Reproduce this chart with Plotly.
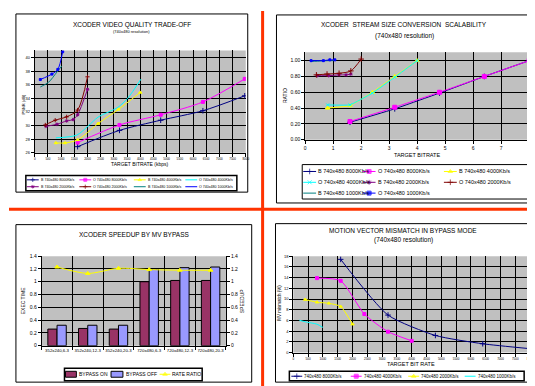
import plotly.graph_objects as go

W, H = 535, 386
FONT = "Liberation Sans, Arial, sans-serif"
GRAY = "#C0C0C0"
RED = "#FF3300"

# ---------------- Panel 1: video quality trade-off (PSNR vs bitrate) ----------------
P1_B8000_X = [1625, 3212, 4775, 6375, 7962]
P1_B8000_Y = [26.9, 29.3, 30.8, 32.2, 34.4]
P1_O8000_X = [1625, 3212, 4775, 6375, 7962]
P1_O8000_Y = [27.5, 30.1, 31.6, 33.5, 36.9]
P1_B4000_X = [800, 1150, 1625, 2400, 3175, 4000]
P1_B4000_Y = [27.45, 27.45, 27.9, 30.3, 32.4, 34.9]
P1_O4000_X = [800, 1590, 2025, 2400, 3150, 3525, 4025]
P1_O4000_Y = [28.2, 28.6, 29.95, 31.25, 32.7, 34.05, 36.85]
P1_B2000_X = [425, 840, 1210, 1460, 1625, 2000]
P1_B2000_Y = [29.9, 30.2, 30.7, 30.9, 31.6, 35.35]
P1_O2000_X = [400, 775, 1210, 1625, 2000]
P1_O2000_Y = [30.1, 30.8, 31.3, 32.3, 37.2]
P1_B1000_X = [210, 525, 840, 1025]
P1_B1000_Y = [35.7, 36.4, 37.9, 38.8]
P1_O1000_X = [210, 650, 875, 1060]
P1_O1000_Y = [36.8, 37.6, 38.3, 40.9]
P1_XTICKS = list(range(0, 8001, 500))
P1_YTICKS = [26, 28, 30, 32, 34, 36, 38, 40]

# ---------------- Panel 2: stream size conversion scalability ----------------
P2_B8000_X = [1.6, 3.2, 4.8, 6.4, 8.0]
P2_B8000_Y = [0.22, 0.39, 0.59, 0.80, 1.00]
P2_O8000_X = [1.6, 3.2, 4.8, 6.4, 8.0]
P2_O8000_Y = [0.23, 0.41, 0.60, 0.80, 1.00]
P2_B4000_X = [0.8, 1.6, 2.4, 3.2, 4.0]
P2_B4000_Y = [0.40, 0.43, 0.60, 0.80, 1.00]
P2_O4000_X = [0.8, 1.6, 2.4, 3.2, 4.0]
P2_O4000_Y = [0.44, 0.44, 0.59, 0.79, 1.00]
P2_B2000_X = [0.43, 0.84, 1.21, 1.46, 1.63]
P2_B2000_Y = [0.81, 0.81, 0.82, 0.82, 0.83]
P2_O2000_X = [0.40, 0.78, 1.21, 1.63, 2.0]
P2_O2000_Y = [0.82, 0.83, 0.84, 0.87, 1.02]
P2_B1000_X = [0.21, 0.53, 0.84, 1.03]
P2_B1000_Y = [0.99, 0.995, 1.0, 1.0]
P2_O1000_X = [0.21, 0.65, 0.88, 1.06]
P2_O1000_Y = [1.0, 1.0, 1.01, 1.01]
P2_XTICKS = [0, 1, 2, 3, 4, 5, 6, 7, 8]
P2_YTICKS = [0.0, 0.2, 0.4, 0.6, 0.8, 1.0]

# ---------------- Panel 3: speedup by MV bypass ----------------
P3_CATS = ["352x240,6-3", "352x240,12-3", "352x240,20-3",
           "720x480,6-3", "720x480,12-3", "720x480,20-3"]
P3_BYPASS_ON = [0.26, 0.27, 0.26, 1.00, 1.02, 1.02]
P3_BYPASS_OFF = [0.32, 0.32, 0.32, 1.20, 1.22, 1.23]
P3_RATE_RATIO = [1.23, 1.13, 1.21, 1.19, 1.18, 1.18]
P3_YTICKS = [0, 0.2, 0.4, 0.6, 0.8, 1, 1.2, 1.4]

# ---------------- Panel 4: motion vector mismatch ----------------
P4_8000_X = [1600, 3200, 4800, 6400, 8000]
P4_8000_Y = [17.4, 7.0, 3.2, 1.65, 0.73]
P4_4000_X = [800, 1600, 2400, 3200, 4000]
P4_4000_Y = [13.9, 13.4, 7.2, 3.9, 2.2]
P4_2000_X = [400, 800, 1200, 1600, 2000]
P4_2000_Y = [9.9, 9.4, 9.2, 8.6, 5.3]
P4_1000_X = [200, 400, 800, 1000]
P4_1000_Y = [6.05, 5.75, 5.3, 4.7]
P4_XTICKS = list(range(0, 8001, 500))
P4_YTICKS = [0, 2, 4, 6, 8, 10, 12, 14, 16, 18]

C_NAVY, C_MAG, C_YEL, C_CYAN = "#000080", "#FF00FF", "#FFFF00", "#00FFFF"
C_PUR, C_DRED, C_TEAL, C_BLUE = "#800080", "#800000", "#008080", "#0000FF"
C_BAR1, C_BAR2 = "#993366", "#9999FF"


def px(x):
    return x / W


def py(y):
    return 1 - y / H


fig = go.Figure()


def line(x, y, color, xa, ya, symbol=None, msize=3, smooth=0.8):
    fig.add_trace(go.Scatter(
        x=x, y=y, xaxis=xa, yaxis=ya,
        mode="lines+markers" if symbol else "lines",
        line=dict(color=color, width=1, shape="spline", smoothing=smooth),
        marker=dict(symbol=symbol or "circle", size=msize, color=color,
                    line=dict(color=color, width=1)),
        showlegend=False, hoverinfo="skip"))


# Panel 1 traces
line(P1_B8000_X, P1_B8000_Y, C_NAVY, "x", "y", "cross-thin", 4)
line(P1_O8000_X, P1_O8000_Y, C_MAG, "x", "y", "square", 3)
line(P1_B4000_X, P1_B4000_Y, C_YEL, "x", "y", "triangle-up", 3)
line(P1_O4000_X, P1_O4000_Y, C_CYAN, "x", "y")
line(P1_B2000_X, P1_B2000_Y, C_PUR, "x", "y", "asterisk-open", 3)
line(P1_O2000_X, P1_O2000_Y, C_DRED, "x", "y", "cross-thin", 3)
line(P1_B1000_X, P1_B1000_Y, C_TEAL, "x", "y")
line(P1_O1000_X, P1_O1000_Y, C_BLUE, "x", "y", "square", 2)

# Panel 2 traces
line(P2_B8000_X, P2_B8000_Y, C_NAVY, "x2", "y2", "cross-thin", 4, 0.3)
line(P2_O8000_X, P2_O8000_Y, C_MAG, "x2", "y2", "square", 4, 0.3)
line(P2_B4000_X, P2_B4000_Y, C_YEL, "x2", "y2", "triangle-up", 4, 0.3)
line(P2_O4000_X, P2_O4000_Y, C_CYAN, "x2", "y2", "x-thin", 3, 0.3)
line(P2_B2000_X, P2_B2000_Y, C_PUR, "x2", "y2", "asterisk-open", 3, 0.5)
line(P2_O2000_X, P2_O2000_Y, C_DRED, "x2", "y2", "cross-thin", 4, 0.8)
line(P2_B1000_X, P2_B1000_Y, C_TEAL, "x2", "y2", None, 3, 0.3)
line(P2_O1000_X, P2_O1000_Y, C_BLUE, "x2", "y2", "square", 2, 0.3)

# Panel 3 traces
fig.add_trace(go.Bar(x=P3_CATS, y=P3_BYPASS_ON, xaxis="x3", yaxis="y3",
                     marker=dict(color=C_BAR1, line=dict(color="black", width=1)),
                     showlegend=False, hoverinfo="skip"))
fig.add_trace(go.Bar(x=P3_CATS, y=P3_BYPASS_OFF, xaxis="x3", yaxis="y3",
                     marker=dict(color=C_BAR2, line=dict(color="black", width=1)),
                     showlegend=False, hoverinfo="skip"))
line(P3_CATS, P3_RATE_RATIO, C_YEL, "x3", "y6", "triangle-up", 4, 0.8)

# Panel 4 traces
line(P4_8000_X, P4_8000_Y, C_NAVY, "x4", "y4", "cross-thin", 4, 0.6)
line(P4_4000_X, P4_4000_Y, C_MAG, "x4", "y4", "square", 3, 0.6)
line(P4_2000_X, P4_2000_Y, C_YEL, "x4", "y4", "triangle-up", 3, 0.6)
line(P4_1000_X, P4_1000_Y, C_CYAN, "x4", "y4", None, 3, 0.6)


# ---------------- legends (drawn on an overlay pixel axis) ----------------
def legend_item(x, y, color, symbol, label, size=4, msize=4, seg=12):
    fig.add_trace(go.Scatter(
        x=[x, x + seg / 2, x + seg], y=[y, y, y], xaxis="x5", yaxis="y5",
        mode="lines+markers" if symbol else "lines",
        line=dict(color=color, width=1),
        marker=dict(symbol=symbol or "circle", size=[0, msize, 0], color=color,
                    line=dict(color=color, width=1)),
        showlegend=False, hoverinfo="skip"))
    fig.add_annotation(x=x + seg + 1, y=y, xref="x5", yref="y5", text=label,
                       showarrow=False, xanchor="left", yanchor="middle",
                       borderpad=0, font=dict(size=size, family=FONT, color="black"))


shapes = []


def rect(x0, y0, x1, y1, ref="paper", color="black", fill=None, width=1, layer="above"):
    if ref == "paper":
        shapes.append(dict(type="rect", xref="paper", yref="paper",
                           x0=px(x0), x1=px(x1), y0=py(y0), y1=py(y1),
                           line=dict(color=color, width=width),
                           fillcolor=fill or "rgba(0,0,0,0)", layer=layer))
    else:
        shapes.append(dict(type="rect", xref="x5", yref="y5", x0=x0, x1=x1, y0=y0, y1=y1,
                           line=dict(color=color, width=width),
                           fillcolor=fill or "rgba(0,0,0,0)", layer=layer))


# Panel 1 legend
L1 = [("B 740x480 8000Kb/s", C_NAVY, "cross-thin"), ("O 740x480 8000Kb/s", C_MAG, "square"),
      ("B 740x480 4000Kb/s", C_YEL, "triangle-up"), ("O 740x480 4000Kb/s", C_CYAN, None),
      ("B 740x480 2000Kb/s", C_PUR, "asterisk-open"), ("O 740x480 2000Kb/s", C_DRED, "cross-thin"),
      ("B 740x480 1000Kb/s", C_TEAL, None), ("O 740x480 1000Kb/s", C_BLUE, None)]
cols1 = [18, 71, 126, 178]
rows1 = [171.5, 178.5]
for i, (lab, col, sym) in enumerate(L1):
    legend_item(cols1[i % 4], rows1[i // 4], col, sym, lab, size=3.6, msize=3)
rect(17, 167, 230, 182.5, ref="x5", width=1.5)

# Panel 2 legend
L2 = [("B 740x480 8000Kb/s", C_NAVY, "cross-thin"), ("O 740x480 8000Kb/s", C_MAG, "square"),
      ("B 740x480 4000Kb/s", C_YEL, "triangle-up"), ("O 740x480 4000Kb/s", C_CYAN, "x-thin"),
      ("B 740x480 2000Kb/s", C_PUR, "asterisk-open"), ("O 740x480 2000Kb/s", C_DRED, "cross-thin"),
      ("B 740x480 1000Kb/s", C_TEAL, None), ("O 740x480 1000Kb/s", C_BLUE, "square")]
cols2 = [297, 357, 439]
rows2 = [163, 174, 185]
for i, (lab, col, sym) in enumerate(L2):
    legend_item(cols2[i % 3], rows2[i // 3], col, sym, lab, size=5.5, msize=4, seg=13)
rect(296, 156, 528, 191, ref="x5", width=1)

# Panel 3 legend
rect(57, 366, 68, 372, ref="x5", fill=C_BAR1, width=1)
fig.add_annotation(x=70, y=369, xref="x5", yref="y5", text="BYPASS ON", showarrow=False,
                   xanchor="left", yanchor="middle", borderpad=0,
                   font=dict(size=5, family=FONT, color="black"))
rect(103, 366, 115, 372, ref="x5", fill=C_BAR2, width=1)
fig.add_annotation(x=117, y=369, xref="x5", yref="y5", text="BYPASS OFF", showarrow=False,
                   xanchor="left", yanchor="middle", borderpad=0,
                   font=dict(size=5, family=FONT, color="black"))
legend_item(152, 369, C_YEL, "triangle-up", "RATE RATIO", size=5, msize=4, seg=11)
rect(56, 363, 195, 375.5, ref="x5", width=1.5)

# Panel 4 legend
L4 = [("740x480 8000Kb/s", C_NAVY, "cross-thin"), ("740x480 4000Kb/s", C_MAG, "square"),
      ("740x480 2000Kb/s", C_YEL, "triangle-up"), ("740x480 1000Kb/s", C_CYAN, None)]
cols4 = [285, 345, 403, 460]
for i, (lab, col, sym) in enumerate(L4):
    legend_item(cols4[i], 371, col, sym, lab, size=4.5, msize=4, seg=11)
rect(283, 366, 520, 375.5, ref="x5", width=1.5)

# ---------------- panel frames, plot backgrounds, red dividers ----------------
rect(7, 3, 241, 184)
rect(270, 4, 529, 195)
rect(7, 217, 245, 377)
rect(269, 216, 527, 377)
for xa, ya in [("x", "y"), ("x2", "y2"), ("x3", "y3"), ("x4", "y4")]:
    shapes.append(dict(type="rect", xref=f"{xa} domain", yref=f"{ya} domain",
                       x0=0, x1=1, y0=0, y1=1, fillcolor=GRAY, line=dict(width=0),
                       layer="below"))
shapes.append(dict(type="line", xref="paper", yref="paper", x0=px(256), x1=px(256),
                   y0=0, y1=1, line=dict(color=RED, width=3), layer="above"))
shapes.append(dict(type="line", xref="paper", yref="paper", x0=0, x1=1,
                   y0=py(201.5), y1=py(201.5), line=dict(color=RED, width=3), layer="above"))

# ---------------- text ----------------
def text(x, y, s, size, angle=0, bold=False, anchor="center"):
    fig.add_annotation(x=px(x), y=py(y), xref="paper", yref="paper",
                       text=f"<b>{s}</b>" if bold else s, showarrow=False,
                       xanchor=anchor, yanchor="middle", textangle=angle, borderpad=0,
                       font=dict(size=size, family=FONT, color="black"))


text(124, 14, "XCODER VIDEO QUALITY TRADE-OFF", 6.5)
text(124, 21, "(740x480 resolution)", 4)
text(15, 95, "PSNR (dB)", 4, angle=-90)
text(132, 155, "TARGET BITRATE (kbps)", 5)

text(399, 14, "XCODER  STREAM SIZE CONVERSION  SCALABILITY", 6.5)
text(399, 25, "(740x480 resolution)", 6.5)
text(278, 86, "RATIO", 5, angle=-90)
text(412, 146, "TARGET BITRATE", 5.5)

text(126, 227, "XCODER SPEEDUP BY MV BYPASS", 6.5)
text(15, 294, "EXEC TIME", 5, angle=-90)
text(236, 294, "SPEEDUP", 5, angle=-90)

text(398, 223, "MOTION VECTOR MISMATCH IN BYPASS MODE", 6.5)
text(398, 233, "(740x480 resolution)", 6.5)
text(273, 296, "MV mismatch (%)", 4.5, angle=-90)
text(406, 359, "TARGET BIT RATE", 5.5)

# ---------------- axes ----------------
def ax(**kw):
    base = dict(showgrid=True, gridcolor="black", gridwidth=1, zeroline=False,
                showline=True, linecolor="black", linewidth=1, ticks="outside",
                ticklen=3, tickcolor="black", fixedrange=True,
                tickfont=dict(size=4, family=FONT, color="black"))
    base.update(kw)
    return base


fig.update_layout(
    width=W, height=H, margin=dict(l=0, r=0, t=0, b=0),
    paper_bgcolor="white", plot_bgcolor="rgba(0,0,0,0)", showlegend=False,
    barmode="group", bargap=0.4, bargroupgap=0.0,
    xaxis=ax(domain=[px(26), px(239)], anchor="y", range=[0, 8000],
             tickvals=P1_XTICKS, ticktext=[str(v) for v in P1_XTICKS], tickangle=0,
             tickfont=dict(size=3, family=FONT, color="black")),
    yaxis=ax(domain=[py(144), py(40)], anchor="x", range=[26, 41.1],
             tickvals=P1_YTICKS, ticktext=[str(v) for v in P1_YTICKS]),
    xaxis2=ax(domain=[px(299), px(525)], anchor="y2", range=[0, 8],
              tickvals=P2_XTICKS, tickfont=dict(size=5, family=FONT, color="black")),
    yaxis2=ax(domain=[py(130.7), py(42)], anchor="x2", range=[0, 1.105],
              tickvals=P2_YTICKS, ticktext=[f"{v:.2f}" for v in P2_YTICKS],
              tickfont=dict(size=5, family=FONT, color="black")),
    xaxis3=ax(domain=[px(33), px(219)], anchor="y3", type="category", tickson="boundaries",
              tickangle=0, tickfont=dict(size=4.3, family=FONT, color="black")),
    yaxis3=ax(domain=[py(340), py(249)], anchor="x3", range=[0, 1.4],
              tickvals=P3_YTICKS, tickfont=dict(size=5, family=FONT, color="black")),
    yaxis6=ax(overlaying="y3", side="right", anchor="x3", range=[0, 1.4], showgrid=False,
              tickvals=P3_YTICKS, tickfont=dict(size=5, family=FONT, color="black")),
    xaxis4=ax(domain=[px(287), px(526)], anchor="y4", range=[0, 8000],
              tickvals=P4_XTICKS, ticktext=[str(v) for v in P4_XTICKS], tickangle=0,
              tickfont=dict(size=3, family=FONT, color="black")),
    yaxis4=ax(domain=[py(347), py(249)], anchor="x4", range=[0, 18],
              tickvals=P4_YTICKS),
    xaxis5=dict(domain=[0, 1], range=[0, W], visible=False, fixedrange=True, anchor="y5"),
    yaxis5=dict(domain=[0, 1], range=[H, 0], visible=False, fixedrange=True, anchor="x5"),
    shapes=shapes,
)

fig.write_html("out.html")
